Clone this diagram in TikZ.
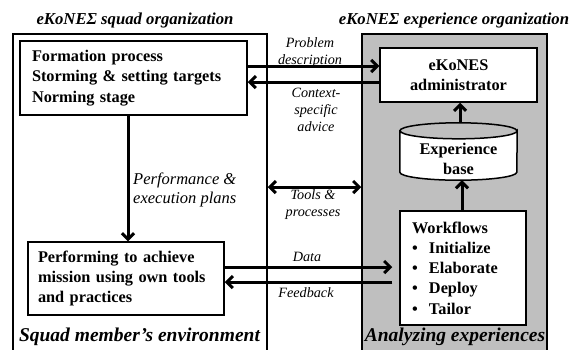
\documentclass[tikz,border=0pt]{standalone}
\usepackage{fontspec}
\setmainfont{Liberation Serif}
\usetikzlibrary{arrows.meta,calc}
\tikzset{
  box/.style={draw, line width=1.5pt, fill=white, inner sep=0pt, font=\fontsize{16.3}{20.3}\selectfont\bfseries},
  arr/.style={line width=3pt, -{Straight Barb[length=6pt,width=12pt]}},
  darr/.style={line width=3pt, {Straight Barb[length=6pt,width=12pt]}-{Straight Barb[length=6pt,width=12pt]}},
  lbl/.style={font=\fontsize{14.2}{17}\selectfont\itshape, align=center, inner sep=0pt},
  ttl/.style={font=\fontsize{16.7}{20}\selectfont\bfseries\itshape, inner sep=0pt},
  btm/.style={font=\fontsize{19.5}{22}\selectfont\bfseries\itshape, inner sep=0pt},
}
\begin{document}
\begin{tikzpicture}[x=1pt,y=-1pt]
\useasboundingbox (0,0) rectangle (569,349);
% containers
\node[draw, line width=1.5pt, minimum width=254pt, minimum height=330pt, inner sep=0pt] (squad) at (140,199) {};
\node[draw, fill=gray!50, line width=1.5pt, minimum width=185pt, minimum height=330pt, inner sep=0pt] (exper) at (454.5,199) {};
% titles
\node[ttl] (t1) at (135,20) {eKoNEΣ squad organization};
\node[ttl] (t2) at (454,20) {eKoNEΣ experience organization};
\node[btm] (b1) at (139.5,337) {Squad member’s environment};
\node[btm] (b2) at (455,337) {Analyzing experiences};
% boxes
\node[box, minimum width=227pt, minimum height=74pt, text width=203pt, align=left] (form) at (133.5,78)
  {Formation process\\Storming \& setting targets\\Norming stage};
\node[box, minimum width=196pt, minimum height=73pt, text width=176pt, align=left] (perf) at (126,278.5)
  {Performing to achieve\\mission using own tools\\and practices};
\node[box, minimum width=157pt, minimum height=54pt, align=center] (admin) at (458.5,75)
  {eKoNES\\administrator};
\node[box, minimum width=126pt, minimum height=114pt, text width=102pt, align=left] (wf) at (463,268)
  {Workflows\\\makebox[17pt][l]{•}Initialize\\\makebox[17pt][l]{•}Elaborate\\\makebox[17pt][l]{•}Deploy\\\makebox[17pt][l]{•}Tailor};
% cylinder
\node[inner sep=0pt, minimum width=117pt, minimum height=57pt] (eb) at (458.5,151.5) {};
\draw[line width=1.5pt, fill=white]
  ($(eb.north west)+(0,8)$) -- ($(eb.south west)+(0,-8)$)
  arc[start angle=180, end angle=360, x radius=58.5pt, y radius=8pt]
  -- ($(eb.north east)+(0,8)$)
  arc[start angle=0, end angle=-180, x radius=58.5pt, y radius=8pt] -- cycle;
\draw[line width=1.5pt] ($(eb.north west)+(0,8)$)
  arc[start angle=180, end angle=0, x radius=58.5pt, y radius=8pt];
\node[font=\fontsize{16.3}{20}\selectfont\bfseries, align=center, inner sep=0pt] (ebt) at (458.5,159) {Experience\\base};
% arrows
\draw[arr] (form.east |- 0,66) -- (admin.west |- 0,66);
\draw[arr] (admin.west |- 0,82) -- (form.east |- 0,82);
\draw[darr] (squad.east |- 0,187) -- (exper.west |- 0,187);
\draw[arr, shorten >=7pt] (perf.east |- 0,267) -- (wf.west |- 0,267);
\draw[arr, shorten <=7pt] (wf.west |- 0,282) -- (perf.east |- 0,282);
\draw[arr] (form.south -| 128,0) -- (perf.north -| 128,0);
\draw[arr] (eb.north -| 460,0) -- (admin.south -| 460,0);
\draw[arr] (wf.north -| 462,0) -- (eb.south -| 462,0);
% labels
\node[lbl] (l1) at (310,53) {Problem\\description};
\node[lbl] (l2) at (316,110) {Context-\\specific\\advice};
\node[lbl] (l3) at (313,205) {Tools \&\\processes};
\node[lbl] (l4) at (307,257) {Data};
\node[lbl] (l5) at (306,293) {Feedback};
\node[font=\fontsize{16.5}{19.5}\selectfont\itshape, align=left, inner sep=0pt, anchor=west] (l6) at (133,190) {Performance \&\\execution plans};
\end{tikzpicture}
\end{document}
